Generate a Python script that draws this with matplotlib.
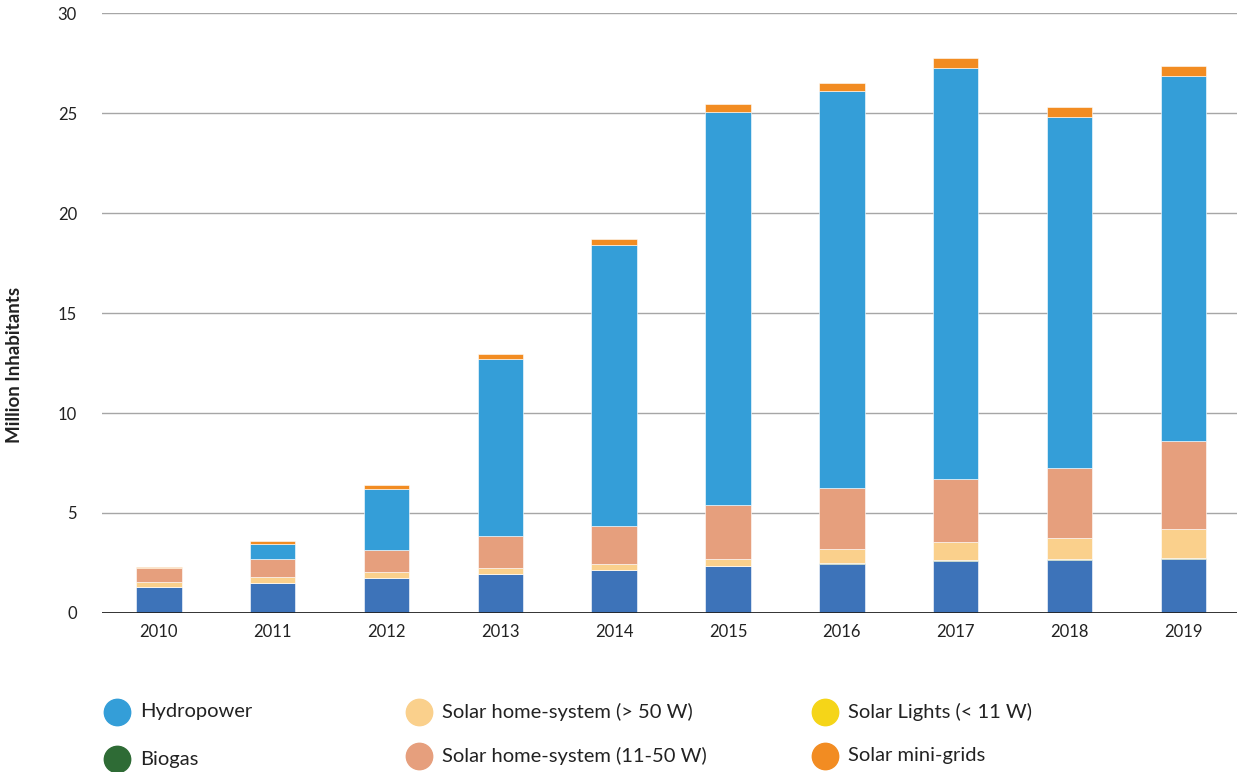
import matplotlib
matplotlib.use("Agg")
import matplotlib.pyplot as plt
from matplotlib.lines import Line2D
import numpy as np

plt.rcParams['font.family'] = ['Lato', 'DejaVu Sans']

years = ['2010', '2011', '2012', '2013', '2014', '2015', '2016', '2017', '2018', '2019']
other = [1.32, 1.52, 1.75, 1.97, 2.17, 2.35, 2.47, 2.62, 2.66, 2.71]
biogas = [0.0, 0.0, 0.0, 0.0, 0.0, 0.0, 0.03, 0.03, 0.03, 0.03]
solar_lights = [0.0, 0.0, 0.0, 0.0, 0.0, 0.0, 0.0, 0.0, 0.0, 0.0]
shs_large = [0.25, 0.28, 0.28, 0.28, 0.28, 0.35, 0.70, 0.90, 1.06, 1.46]
shs_mid = [0.66, 0.88, 1.10, 1.58, 1.90, 2.70, 3.05, 3.15, 3.50, 4.40]
hydro = [0.0, 0.79, 3.05, 8.87, 14.05, 19.67, 19.85, 20.57, 17.57, 18.27]
minigrids = [0.05, 0.13, 0.20, 0.25, 0.30, 0.38, 0.40, 0.48, 0.48, 0.51]

series = [
    ('Other', other, '#3D73B9'),
    ('Biogas', biogas, '#2E6B35'),
    ('Solar Lights (< 11 W)', solar_lights, '#F5D518'),
    ('Solar home-system (> 50 W)', shs_large, '#FAD08C'),
    ('Solar home-system (11-50 W)', shs_mid, '#E69F7D'),
    ('Hydropower', hydro, '#349ED8'),
    ('Solar mini-grids', minigrids, '#F28C22'),
]

fig = plt.figure(figsize=(12.39, 7.72), dpi=100)
ax = fig.add_axes([0.0823, 0.206, 0.916, 0.777])

x = np.arange(len(years))
bottom = np.zeros(len(years))
for name, vals, col in series:
    vals = np.array(vals)
    ax.bar(x, vals, 0.40, bottom=bottom, color=col, edgecolor='white', linewidth=0.4, zorder=3)
    bottom += vals

ax.set_xlim(-0.5, 9.47)
ax.set_ylim(0, 30)
ax.set_yticks(range(0, 31, 5))
ax.set_xticks(x)
ax.set_xticklabels(years)
ax.tick_params(axis='both', length=0, labelsize=12, colors='#222222')
ax.tick_params(axis='y', pad=18)
ax.tick_params(axis='x', pad=8)
for s in ax.spines.values():
    s.set_visible(False)
ax.yaxis.grid(True, color='#a6a6a6', linewidth=1.0, zorder=0)
ax.axhline(0, color='#222222', linewidth=2.0, zorder=4)

fig.text(0.012, 0.527, 'Million Inhabitants', rotation=90, ha='center', va='center',
         fontsize=13.5, fontweight='bold', color='#222222')

legend_items = [
    ('Hydropower', '#349ED8', 117, 712),
    ('Biogas', '#2E6B35', 117, 759),
    ('Solar home-system (> 50 W)', '#FAD08C', 419, 712),
    ('Solar home-system (11-50 W)', '#E69F7D', 419, 756),
    ('Solar Lights (< 11 W)', '#F5D518', 825, 712),
    ('Solar mini-grids', '#F28C22', 825, 756),
]
W, H = 1239, 772
for label, col, px, py in legend_items:
    fx, fy = px / W, 1 - py / H
    fig.add_artist(Line2D([fx], [fy], transform=fig.transFigure, marker='o',
                          markersize=19, color=col, linestyle='none'))
    fig.text(fx + 23 / W, fy, label, ha='left', va='center', fontsize=14.5, color='#222222')

fig.savefig('out.png', dpi=100)
